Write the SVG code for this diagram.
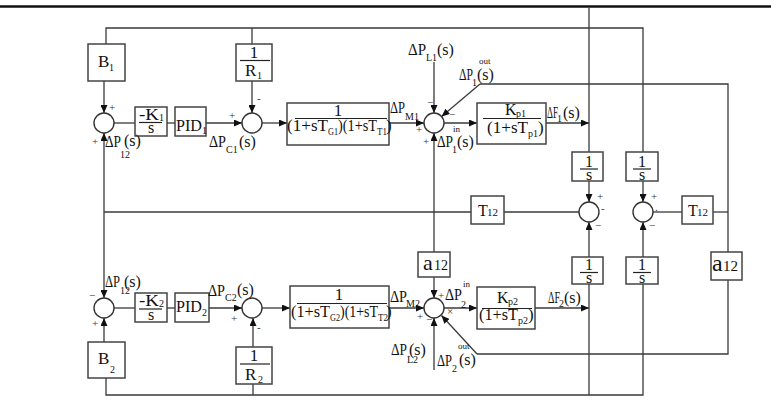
<svg xmlns="http://www.w3.org/2000/svg" width="771" height="402" viewBox="0 0 771 402">
<style>
.bx{fill:#fff;stroke:#444;stroke-width:1.5}
.sm{fill:#fff;stroke:#333;stroke-width:1.4}
.ln{fill:none;stroke:#3a3a3a;stroke-width:1.3}
.ar{fill:none;stroke:#3a3a3a;stroke-width:1.3;marker-end:url(#ah)}
.fr{stroke:#222;stroke-width:1.2}
text{font-family:"Liberation Serif","Times New Roman",serif;fill:#111}
.t{font-size:17px}
.m{font-size:16px}
.s{font-size:10px}
.g{font-size:11px;fill:#333}
.c{text-anchor:middle}
</style>
<defs>
<marker id="ah" markerUnits="userSpaceOnUse" markerWidth="8" markerHeight="7" refX="8" refY="3.5" orient="auto">
<path d="M0,0 L8,3.5 L0,7 z" fill="#111"/>
</marker>
</defs>
<rect width="771" height="402" fill="#fff"/>
<line x1="0" y1="6.5" x2="771" y2="6.5" stroke="#111" stroke-width="2.5"/>
<g id="connectors">
<path class="ln" d="M106,44 V28 H643 V152"/>
<path class="ln" d="M252,28 V44"/>
<path class="ln" d="M589,8 V152"/>
<path class="ar" d="M104,81 V113"/>
<path class="ln" d="M114,123 H135"/>
<path class="ln" d="M167,123 H175"/>
<path class="ar" d="M206,123 H242"/>
<path class="ar" d="M252,81 V113"/>
<path class="ar" d="M262,123 H287"/>
<path class="ar" d="M389,123 H424"/>
<path class="ar" d="M434,62 V113"/>
<path class="ar" d="M480,84 L441.6,116.5"/>
<path class="ln" d="M480,84 H728 V354 H477"/>
<path class="ar" d="M477,354 L441.5,315.5"/>
<path class="ar" d="M444,123 H477"/>
<path class="ar" d="M546,123 H589"/>
<path class="ar" d="M589,181 V202"/>
<path class="ar" d="M643,181 V202"/>
<path class="ln" d="M579,212 H104"/>
<path class="ar" d="M104,212 V133"/>
<path class="ar" d="M104,212 V298"/>
<path class="ln" d="M653,212 H682"/>
<path class="ln" d="M713,212 H728"/>
<path class="ar" d="M434,252 V133"/>
<path class="ar" d="M434,277 V298"/>
<path class="ar" d="M589,257 V222"/>
<path class="ar" d="M643,257 V222"/>
<path class="ar" d="M535,308 H589"/>
<path class="ln" d="M589,284 V395"/>
<path class="ln" d="M643,284 V395 H106 V378"/>
<path class="ln" d="M253,395 V384"/>
<path class="ar" d="M104,342 V318"/>
<path class="ln" d="M114,308 H135"/>
<path class="ln" d="M167,308 H175"/>
<path class="ar" d="M209,308 H242"/>
<path class="ar" d="M253,347 V318"/>
<path class="ar" d="M262,308 H290"/>
<path class="ar" d="M389,308 H424"/>
<path class="ar" d="M434,370 V318"/>
<path class="ar" d="M444,308 H477"/>
</g>
<g id="B1"><rect class="bx" x="88" y="44" width="37" height="37"/><text class="t" x="98" y="67">B</text><text class="s" x="109" y="71">1</text></g>
<g id="B2"><rect class="bx" x="88" y="342" width="37" height="36"/><text class="t" x="98" y="364">B</text><text class="s" x="110" y="373">2</text></g>
<g id="R1"><rect class="bx" x="236" y="44" width="36" height="37"/><text class="t c" x="254" y="58">1</text><line class="fr" x1="240" y1="60.5" x2="270" y2="60.5"/><text class="t" x="245" y="76">R</text><text class="s" x="257" y="79">1</text></g>
<g id="R2"><rect class="bx" x="236" y="347" width="36" height="37"/><text class="t c" x="254" y="361">1</text><line class="fr" x1="240" y1="364" x2="270" y2="364"/><text class="t" x="245" y="380">R</text><text class="s" x="258" y="383">2</text></g>
<g id="K1"><rect class="bx" x="135" y="107" width="32" height="29"/><text class="m" x="139" y="120" textLength="20" lengthAdjust="spacingAndGlyphs">-K</text><text class="s" x="159" y="121" font-size="7">1</text><line class="fr" x1="139" y1="122.5" x2="162" y2="122.5"/><text class="m c" x="151" y="133">s</text></g>
<g id="K2"><rect class="bx" x="135" y="293" width="32" height="29"/><text class="m" x="139" y="306" textLength="20" lengthAdjust="spacingAndGlyphs">-K</text><text class="s" x="159" y="307" font-size="7">2</text><line class="fr" x1="139" y1="309" x2="162" y2="309"/><text class="m c" x="151" y="319.5">s</text></g>
<g id="PID1"><rect class="bx" x="175" y="107" width="31" height="29"/><text class="t" x="176" y="131" textLength="26" lengthAdjust="spacingAndGlyphs">PID</text><text class="s" x="202" y="134" font-size="9">1</text></g>
<g id="PID2"><rect class="bx" x="175" y="293" width="34" height="29"/><text class="t" x="176" y="312" textLength="26" lengthAdjust="spacingAndGlyphs">PID</text><text class="s" x="202" y="316" font-size="9">2</text></g>
<g id="S1"><circle class="sm" cx="104" cy="123" r="10"/><text class="g" x="109" y="111">+</text><text class="g" x="92" y="145">+</text></g>
<g id="S2"><circle class="sm" cx="252" cy="123" r="10"/><text class="g" x="229" y="119">+</text><text class="g" x="257" y="102">-</text></g>
<g id="S3"><circle class="sm" cx="434" cy="123" r="10"/><text class="g" x="427" y="106">−</text><text class="g" x="449" y="118">−</text><text class="g" x="416" y="133">+</text><text class="g" x="423" y="145">+</text></g>
<g id="S4"><circle class="sm" cx="104" cy="308" r="10"/><text class="g" x="89" y="299">−</text><text class="g" x="92" y="327">+</text></g>
<g id="S5"><circle class="sm" cx="252" cy="308" r="10"/><text class="g" x="231" y="322">+</text><text class="g" x="257" y="331">-</text></g>
<g id="S6"><circle class="sm" cx="434" cy="308" r="10"/><text class="g" x="417" y="320">+</text><text class="g" x="426" y="323">−</text><text class="g" x="447" y="315" font-size="8">×</text></g>
<g id="SA"><circle class="sm" cx="589" cy="212" r="10"/><text class="g" x="597" y="200">+</text><text class="g" x="601" y="212" font-size="8">-</text><text class="g" x="595" y="229">−</text></g>
<g id="SB"><circle class="sm" cx="643" cy="212" r="10"/><text class="g" x="651" y="200">+</text><text class="g" x="655" y="211" font-size="8">.</text><text class="g" x="649" y="229">−</text></g>
<g id="G1"><rect class="bx" x="287" y="103" width="102" height="42"/><text class="t c" x="338" y="116">1</text><line class="fr" x1="295" y1="118.5" x2="387" y2="118.5"/><text class="t" x="287" y="131" textLength="41" lengthAdjust="spacingAndGlyphs">(1+sT</text><text class="s" x="328" y="135" textLength="10" lengthAdjust="spacingAndGlyphs">G1</text><text class="t" x="338" y="131" textLength="39" lengthAdjust="spacingAndGlyphs">)(1+sT</text><text class="s" x="377" y="135" textLength="10" lengthAdjust="spacingAndGlyphs">T1</text><text class="t" x="386" y="131">)</text></g>
<g id="G2"><rect class="bx" x="290" y="286" width="99" height="42"/><text class="t c" x="339" y="300">1</text><line class="fr" x1="297" y1="303.5" x2="387" y2="303.5"/><text class="t" x="291" y="317" textLength="39" lengthAdjust="spacingAndGlyphs">(1+sT</text><text class="s" x="330" y="321" textLength="10" lengthAdjust="spacingAndGlyphs">G2</text><text class="t" x="340" y="317" textLength="38" lengthAdjust="spacingAndGlyphs">)(1+sT</text><text class="s" x="378" y="321" textLength="10" lengthAdjust="spacingAndGlyphs">T2</text><text class="t" x="386" y="317">)</text></g>
<g id="Kp1"><rect class="bx" x="477" y="103" width="69" height="41"/><text class="m" x="505" y="115">K</text><text class="s" x="516" y="117">p1</text><line class="fr" x1="483" y1="118.5" x2="541" y2="118.5"/><text class="t" x="487" y="133" textLength="41" lengthAdjust="spacingAndGlyphs">(1+sT</text><text class="s" x="528" y="137">p1</text><text class="t" x="538" y="133">)</text></g>
<g id="Kp2"><rect class="bx" x="477" y="287" width="58" height="42"/><text class="m" x="497" y="303">K</text><text class="s" x="508" y="305">p2</text><line class="fr" x1="482" y1="308.5" x2="532" y2="308.5"/><text class="t" x="479" y="320" textLength="39" lengthAdjust="spacingAndGlyphs">(1+sT</text><text class="s" x="518" y="324">p2</text><text class="t" x="528" y="320">)</text></g>
<g id="I1"><rect class="bx" x="572" y="152" width="31" height="29"/><text class="m c" x="589" y="166.5">1</text><line class="fr" x1="580" y1="169" x2="598" y2="169"/><text class="m c" x="589" y="179.5">s</text></g>
<g id="I2"><rect class="bx" x="626" y="152" width="32" height="29"/><text class="m c" x="642" y="166.5">1</text><line class="fr" x1="633" y1="169" x2="651" y2="169"/><text class="m c" x="642" y="179.5">s</text></g>
<g id="I3"><rect class="bx" x="572" y="257" width="31" height="27"/><text class="m c" x="589" y="270">1</text><line class="fr" x1="580" y1="272.5" x2="598" y2="272.5"/><text class="m c" x="589" y="282.5">s</text></g>
<g id="I4"><rect class="bx" x="626" y="257" width="32" height="27"/><text class="m c" x="642" y="270">1</text><line class="fr" x1="633" y1="272.5" x2="651" y2="272.5"/><text class="m c" x="642" y="282.5">s</text></g>
<g id="T12a"><rect class="bx" x="471" y="196" width="33" height="28"/><text class="m" x="478" y="216">T</text><text x="487" y="216" font-size="11">12</text></g>
<g id="T12b"><rect class="bx" x="682" y="196" width="31" height="28"/><text class="m" x="688" y="216">T</text><text x="697" y="216" font-size="11">12</text></g>
<g id="A12a"><rect class="bx" x="418" y="252" width="32" height="25"/><text x="423" y="270" font-size="22">a</text><text x="434" y="270" font-size="14">12</text></g>
<g id="A12b"><rect class="bx" x="711" y="252" width="31" height="28"/><text x="712" y="271" font-size="24">a</text><text x="723" y="271" font-size="15">12</text></g>
<g id="labels">
<text class="m" x="408" y="55" textLength="18" lengthAdjust="spacingAndGlyphs">ΔP</text><text class="s" x="426" y="61">L1</text><text class="m" x="437" y="55">(s)</text>
<text class="m" x="459" y="80" textLength="14" lengthAdjust="spacingAndGlyphs">ΔP</text><text x="479" y="64" font-size="9">out</text><text class="s" x="472" y="86">1</text><text class="m" x="477" y="80">(s)</text>
<text class="m" x="390" y="113" textLength="15" lengthAdjust="spacingAndGlyphs">ΔP</text><text class="s" x="405" y="120">M1</text>
<text x="453" y="132" font-size="9">in</text><text class="m" x="437" y="147" textLength="16" lengthAdjust="spacingAndGlyphs">ΔP</text><text class="s" x="452" y="153">1</text><text class="m" x="457" y="147">(s)</text>
<text class="m" x="547" y="118" textLength="11" lengthAdjust="spacingAndGlyphs">ΔF</text><text class="s" x="557" y="122">1</text><text class="m" x="563" y="118">(s)</text>
<text class="m" x="209" y="147" textLength="17" lengthAdjust="spacingAndGlyphs">ΔP</text><text class="s" x="226" y="153">C1</text><text class="m" x="239" y="147">(s)</text>
<text class="m" x="105" y="147" textLength="16" lengthAdjust="spacingAndGlyphs">ΔP</text><text class="s" x="120" y="158">12</text><text class="m" x="124" y="146">(s)</text>
<text class="m" x="105" y="287" textLength="15" lengthAdjust="spacingAndGlyphs">ΔP</text><text class="s" x="120" y="294">12</text><text class="m" x="124" y="287">(s)</text>
<text class="m" x="208" y="296" textLength="17" lengthAdjust="spacingAndGlyphs">ΔP</text><text class="s" x="225" y="301">C2</text><text class="m" x="237" y="295">(s)</text>
<text class="m" x="390" y="302" textLength="17" lengthAdjust="spacingAndGlyphs">ΔP</text><text class="s" x="406" y="307">M2</text>
<text class="g" x="438" y="299">+</text><text class="m" x="445" y="300" textLength="17" lengthAdjust="spacingAndGlyphs">ΔP</text><text class="s" x="461" y="308">2</text><text x="463" y="287" font-size="9">in</text>
<text class="m" x="548" y="303" textLength="12" lengthAdjust="spacingAndGlyphs">ΔF</text><text class="s" x="559" y="307">2</text><text class="m" x="564" y="303">(s)</text>
<text class="m" x="391" y="355" textLength="16" lengthAdjust="spacingAndGlyphs">ΔP</text><text class="s" x="407" y="363">L2</text><text class="m" x="409" y="355">(s)</text>
<text class="m" x="437" y="366" textLength="15" lengthAdjust="spacingAndGlyphs">ΔP</text><text x="458" y="349" font-size="9">out</text><text class="s" x="452" y="372">2</text><text class="m" x="459" y="365">(s)</text>
</g>
</svg>
